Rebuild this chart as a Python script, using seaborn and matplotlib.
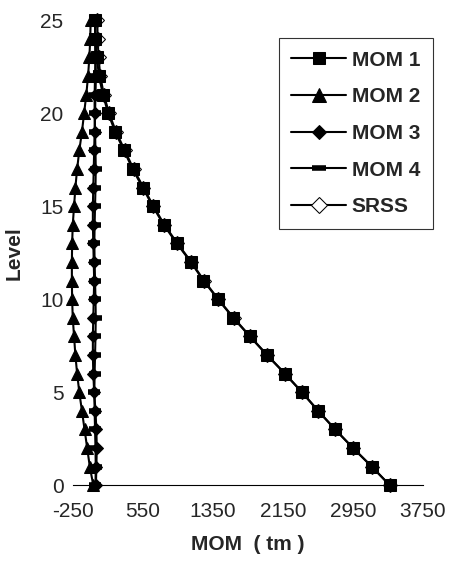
import matplotlib
matplotlib.use("Agg")
import matplotlib.pyplot as plt
import seaborn as sns

# ---------------------------------------------------------------
# data (moment per level, tm)
# ---------------------------------------------------------------
levels = list(range(0, 26))

mom1 = [3370, 3165, 2950, 2745, 2550, 2365, 2170, 1965, 1770, 1580,
        1405, 1240, 1095, 935, 785, 660, 545, 430, 330, 230,
        150, 90, 45, 20, 5, 0]
mom2 = [-20, -60, -90, -120, -150, -180, -205, -225, -240, -255,
        -262, -265, -265, -262, -255, -240, -225, -205, -180, -150,
        -125, -100, -80, -65, -55, -50]
mom3 = [10, 15, 20, 15, 5, -10, -20, -25, -25, -20,
        -15, -10, -15, -20, -25, -25, -20, -15, -10, -5,
        0, 5, 10, 5, 0, 0]
mom4 = [5, 8, 5, 0, -5, -8, -5, 0, 5, 8,
        5, 0, -5, -8, -5, 0, 5, 8, 5, 0,
        -5, -5, 0, 5, 5, 0]
srss = [3371, 3166, 2951, 2747, 2553, 2368, 2173, 1969, 1774, 1585,
        1410, 1246, 1101, 942, 793, 668, 554, 440, 340, 240,
        160, 100, 60, 40, 30, 25]

x_ticks = [-250, 550, 1350, 2150, 2950, 3750]
y_ticks = [0, 5, 10, 15, 20, 25]

# ---------------------------------------------------------------
# figure
# ---------------------------------------------------------------
sns.set_style("white")
plt.rcParams["font.family"] = ["Liberation Sans", "DejaVu Sans"]
plt.rcParams["axes.unicode_minus"] = False

fig = plt.figure(figsize=(4.49, 5.77), dpi=100)
ax = fig.add_axes([0.163, 0.159, 0.779, 0.806])

series = [
    ("MOM 1", mom1, dict(marker="s", markersize=8, markerfacecolor="black"), 5),
    ("MOM 2", mom2, dict(marker="^", markersize=9, markerfacecolor="black"), 4),
    ("MOM 3", mom3, dict(marker="D", markersize=6.5, markerfacecolor="black"), 3),
    ("MOM 4", mom4, dict(marker="_", markersize=9, markeredgewidth=4), 2),
    ("SRSS", srss, dict(marker="D", markersize=7.5, markerfacecolor="white"), 1),
]

for label, vals, mk, z in series:
    sns.lineplot(x=vals, y=levels, sort=False, estimator=None, ax=ax,
                 color="black", linewidth=1.5, markeredgecolor="black",
                 label=label, zorder=z, clip_on=False, **mk)

ax.set_xlim(-250, 3750)
ax.set_ylim(0, 25)
ax.set_xticks(x_ticks)
ax.set_yticks(y_ticks)
ax.tick_params(axis="both", labelsize=15, length=4, width=0.8, color="black",
               direction="out", pad=3)
ax.tick_params(axis="x", pad=8)

for side in ["top", "right", "left"]:
    ax.spines[side].set_visible(False)
ax.spines["bottom"].set_color("black")
ax.spines["bottom"].set_linewidth(0.8)

ax.set_xlabel("MOM  ( tm )", fontsize=15, fontweight="bold", labelpad=10)
ax.set_ylabel("Level", fontsize=15, fontweight="bold", labelpad=12)

ax.legend_.remove()
handles, labels = ax.get_legend_handles_labels()
leg = fig.legend(handles, labels, loc="upper right",
                 bbox_to_anchor=(0.964, 0.934), borderaxespad=0,
                 prop={"weight": "bold", "size": 15},
                 frameon=True, fancybox=False, edgecolor="black",
                 handlelength=2.6, labelspacing=0.85, handletextpad=0.3,
                 borderpad=0.6, markerscale=1.1)
leg.get_frame().set_linewidth(0.8)

plt.savefig("out.png", dpi=100)
plt.close()
